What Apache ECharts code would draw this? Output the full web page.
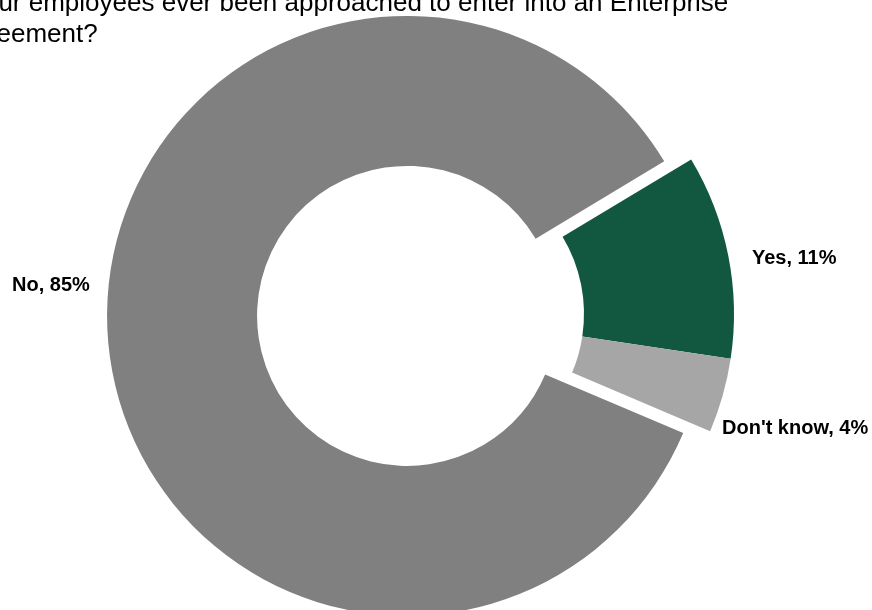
<!DOCTYPE html>
<html>
<head>
<meta charset="utf-8">
<script src="https://cdn.jsdelivr.net/npm/echarts@6/dist/echarts.min.js"></script>
<style>
  html, body { margin: 0; padding: 0; background: #fff; }
  #chart { width: 872px; height: 610px; }
</style>
</head>
<body>
<div id="chart"></div>
<script>
// Survey answers, in the order they run clockwise round the ring
const categories = ['Yes', "Don't know", 'No'];
const shares = [11, 4, 85];
const colors = ['#12573f', '#a6a6a6', '#808080'];
const titleLines = ['Have your employees ever been approached to enter into an Enterprise', 'Agreement?'];

// Label anchors (left edge, vertical middle) for each answer
const labelSpots = [
  { x: 752, y: 258 },
  { x: 722, y: 428 },
  { x: 12, y: 285 }
];

const fontFamily = '"Liberation Sans", Arial, sans-serif';

// Ring geometry
const ringCenter = [434, 314];
const ringRadius = [150, 300];
const firstAngle = 31;          // where "Yes" begins, degrees counter-clockwise from 3 o'clock
const pulledOut = 27;           // how far the "No" sector is pulled away from the rest

const total = shares.reduce(function (a, b) { return a + b; }, 0);
const smallSweep = (shares[0] + shares[1]) / total * 360;
const noStart = firstAngle - smallSweep;
const noEnd = firstAngle - 360;
const noMid = (noStart + noEnd) / 2 * Math.PI / 180;
const noCenter = [
  ringCenter[0] + pulledOut * Math.cos(noMid),
  ringCenter[1] - pulledOut * Math.sin(noMid)
];

const labelStyle = {
  show: true,
  position: 'outside',
  formatter: '{b}, {c}%',
  fontFamily: fontFamily,
  fontSize: 20,
  fontWeight: 'bold',
  color: '#000000'
};

// series 0 holds Yes / Don't know, series 1 holds No
function placeLabel(params) {
  const idx = params.seriesIndex === 0 ? params.dataIndex : 2;
  const spot = labelSpots[idx];
  return { x: spot.x, y: spot.y, align: 'left', verticalAlign: 'middle' };
}

function item(i) {
  return { name: categories[i], value: shares[i], itemStyle: { color: colors[i] } };
}

const titleFont = { fontFamily: fontFamily, fontSize: 26, fontWeight: 'normal', color: '#000000', lineHeight: 28 };

const chart = echarts.init(document.getElementById('chart'), null, { renderer: 'canvas' });

chart.setOption({
  animation: false,
  backgroundColor: '#ffffff',
  title: [
    { text: titleLines[0], left: -97, top: -10, padding: 0, textStyle: titleFont },
    { text: titleLines[1], left: -44, top: 21, padding: 0, textStyle: titleFont }
  ],
  series: [
    {
      type: 'pie',
      center: ringCenter,
      radius: ringRadius,
      startAngle: firstAngle,
      endAngle: noStart,
      clockwise: true,
      silent: true,
      avoidLabelOverlap: false,
      label: labelStyle,
      labelLine: { show: false },
      labelLayout: placeLabel,
      data: [item(0), item(1)]
    },
    {
      type: 'pie',
      center: noCenter,
      radius: ringRadius,
      startAngle: noStart,
      endAngle: noEnd,
      clockwise: true,
      silent: true,
      avoidLabelOverlap: false,
      label: labelStyle,
      labelLine: { show: false },
      labelLayout: placeLabel,
      data: [item(2)]
    }
  ]
});
</script>
</body>
</html>
